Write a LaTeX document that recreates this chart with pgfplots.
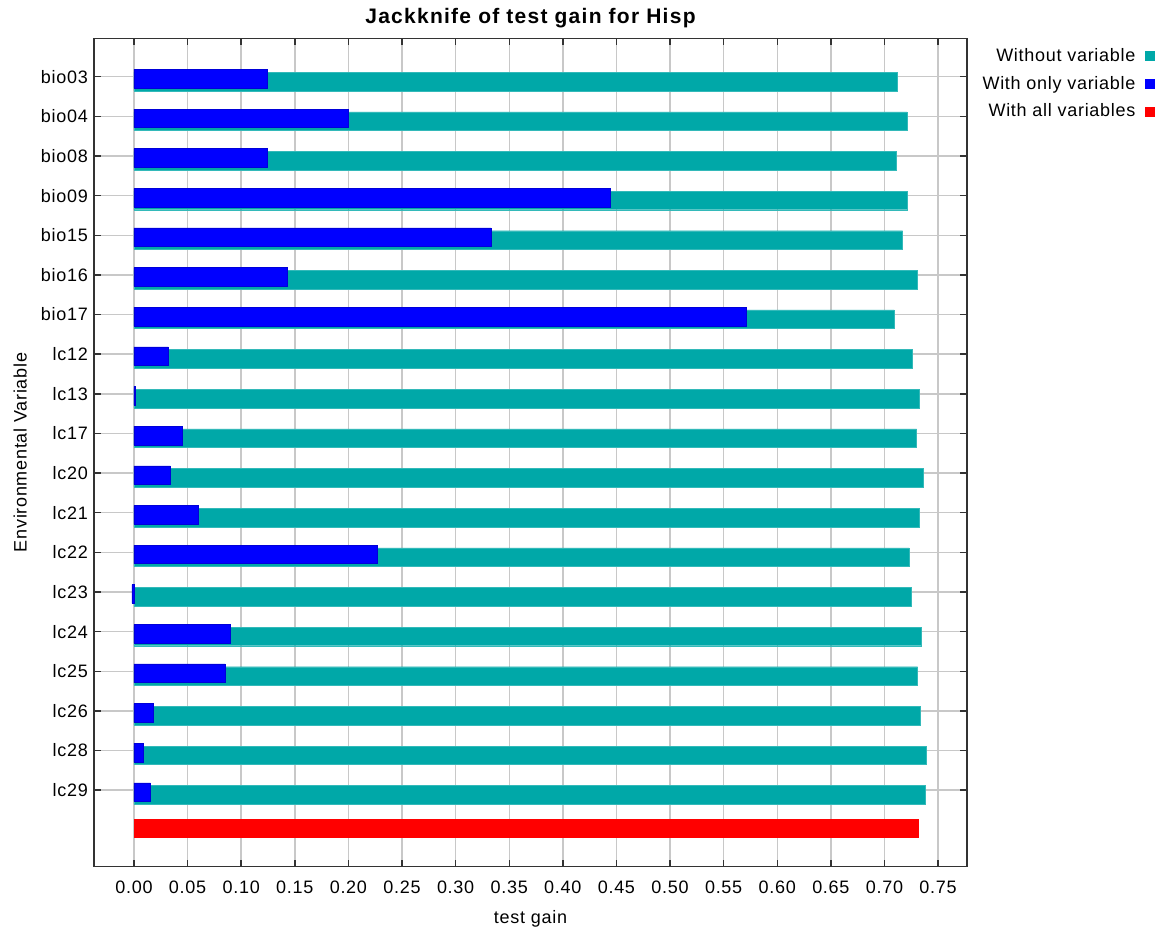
\documentclass[border=0pt]{standalone}
\usepackage{pgfplots}
\pgfplotsset{compat=1.18}
\usepackage{fontspec}
\setmainfont[LetterSpace=4]{Liberation Sans}
\definecolor{tealc}{RGB}{0,168,168}
\definecolor{bluec}{RGB}{0,0,255}
\definecolor{redc}{RGB}{255,0,0}
\definecolor{gridc}{RGB}{200,200,200}
\begin{document}
\fontsize{18pt}{21pt}\selectfont
\begin{tikzpicture}[x=1pt,y=1pt]
\path[use as bounding box] (0,0) rectangle (1163,931);
\begin{axis}[
  at={(94pt,64.3pt)}, anchor=south west,
  scale only axis, width=873pt, height=828.4pt,
  xbar, bar shift=0pt, bar width=0.47,
  xmin=-0.0373, xmax=0.777, ymin=-19.93, ymax=0.97,
  xtick={0,0.05,0.10,0.15,0.20,0.25,0.30,0.35,0.40,0.45,0.50,0.55,0.60,0.65,0.70,0.75},
  scaled x ticks=false,
  xticklabel style={yshift=-8pt, /pgf/number format/.cd,fixed,fixed zerofill,precision=2,assume math mode=true},
  ytick={-18,...,0},
  yticklabels={lc29,lc28,lc26,lc25,lc24,lc23,lc22,lc21,lc20,lc17,lc13,lc12,bio17,bio16,bio15,bio09,bio08,bio04,bio03},
  tick align=inside, xtick align=inside, ytick align=inside, major tick length=7pt,
  tick style={black!80, line width=1.4pt},
  grid=major, grid style={gridc, line width=1.4pt},
  axis line style={black!80, line width=1.4pt},
  every tick label/.append style={font=\fontsize{18pt}{21pt}\selectfont},
  title={Jackknife of test gain for Hisp},
  title style={anchor=base, yshift=9pt, font=\addfontfeatures{LetterSpace=6}\bfseries\fontsize{21pt}{24pt}\selectfont},
  xlabel={test gain}, ylabel={Environmental Variable},
  label style={font=\fontsize{18pt}{21pt}\selectfont},
  xlabel style={yshift=-5pt},
  ylabel style={yshift=2pt},
  legend style={at={(1.2188,0.993)}, anchor=north east, draw=none, fill=none,
    font=\fontsize{18pt}{21pt}\selectfont, row sep=8pt},
  legend cell align=right, legend plot pos=right,
]
\addplot[fill=tealc, draw=tealc!80!white, forget plot] coordinates {
(0.712,-0.12) (0.721,-1.12) (0.7106,-2.12) (0.721,-3.12) (0.717,-4.12) (0.731,-5.12) (0.709,-6.12)
(0.726,-7.12) (0.732,-8.12) (0.730,-9.12) (0.736,-10.12) (0.732,-11.12) (0.723,-12.12) (0.725,-13.12)
(0.734,-14.12) (0.731,-15.12) (0.733,-16.12) (0.739,-17.12) (0.7376,-18.12)};
\addplot[fill=bluec, draw=bluec!85!black, forget plot] coordinates {
(0.1243,-0.05) (0.1995,-1.05) (0.124,-2.05) (0.444,-3.05) (0.333,-4.05) (0.143,-5.05) (0.571,-6.05)
(0.032,-7.05) (0.001,-8.05) (0.0448,-9.05) (0.0339,-10.05) (0.0603,-11.05) (0.227,-12.05) (-0.002,-13.05)
(0.090,-14.05) (0.085,-15.05) (0.0183,-16.05) (0.0090,-17.05) (0.0152,-18.05)};
\addplot[fill=redc, draw=redc, forget plot] coordinates {(0.7313,-18.96)};
\addlegendimage{legend image code/.code={\path (0pt,0pt); \fill[tealc] (8pt,-4.5pt) rectangle (17pt,4.5pt);}}
\addlegendentry{Without variable}
\addlegendimage{legend image code/.code={\path (0pt,0pt); \fill[bluec] (8pt,-4.5pt) rectangle (17pt,4.5pt);}}
\addlegendentry{With only variable}
\addlegendimage{legend image code/.code={\path (0pt,0pt); \fill[redc] (8pt,-4.5pt) rectangle (17pt,4.5pt);}}
\addlegendentry{With all variables}
\end{axis}
\end{tikzpicture}
\end{document}
